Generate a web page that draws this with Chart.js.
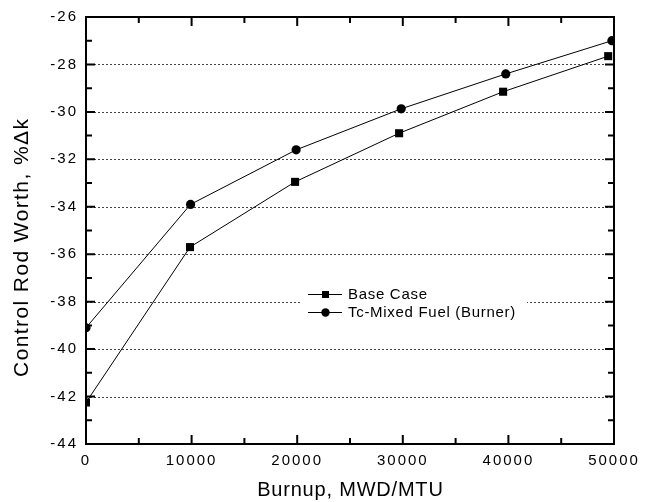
<!DOCTYPE html>
<html>
<head>
<meta charset="utf-8">
<title>Control Rod Worth vs Burnup</title>
<script src="https://cdn.jsdelivr.net/npm/chart.js@4.4.1/dist/chart.umd.min.js"></script>
<style>
  html, body { margin: 0; padding: 0; background: #fff; }
  #wrap { width: 653px; height: 502px; }
</style>
</head>
<body>
<div id="wrap"><canvas id="worth-chart" width="653" height="502"></canvas></div>
<script>
// burnup (MWD/MTU) and control rod worth (%Δk) for each case
const burnupBase = [0, 9850, 19800, 29650, 39500, 49450];
const worthBase = [-42.25, -35.7, -32.95, -30.9, -29.15, -27.65];
const burnupTc = [0, 9900, 19900, 29850, 39750, 49800];
const worthTc = [-39.1, -33.9, -31.6, -29.87, -28.4, -27.0];

const seriesNames = ["Base Case", "Tc-Mixed Fuel (Burner)"];
const xTicks = [0, 10000, 20000, 30000, 40000, 50000];
const yTicks = [-44, -42, -40, -38, -36, -34, -32, -30, -28, -26];
const xTitle = "Burnup, MWD/MTU";
const yTitle = "Control Rod Worth, %\u0394k";

const FONT = "'Liberation Sans', Arial, Helvetica, sans-serif";

const toPoints = (xs, ys) => xs.map((x, i) => ({ x: x, y: ys[i] }));

// frame, inward ticks, dotted grid, axis titles and the boxed legend
const framePlugin = {
  id: "frame",
  beforeDraw(chart) {
    // wide-set tick numbers
    chart.ctx.letterSpacing = "2px";
  },
  beforeDatasetsDraw(chart) {
    const { ctx, chartArea: a, scales } = chart;
    ctx.save();
    ctx.letterSpacing = "0px";
    ctx.strokeStyle = "#444";
    ctx.lineWidth = 1;
    ctx.setLineDash([2, 2]);
    yTicks.slice(1, -1).forEach((v) => {
      const y = Math.round(scales.y.getPixelForValue(v)) + 0.5;
      ctx.beginPath();
      ctx.moveTo(a.left, y);
      ctx.lineTo(a.right, y);
      ctx.stroke();
    });
    ctx.setLineDash([]);
    // white box behind the legend
    ctx.fillStyle = "#fff";
    ctx.fillRect(301, 282, 226, 40);
    ctx.restore();
  },
  afterDatasetsDraw(chart) {
    const { ctx, chartArea: a, scales } = chart;
    ctx.save();
    ctx.letterSpacing = "0px";
    ctx.strokeStyle = "#000";
    ctx.lineWidth = 2;
    ctx.strokeRect(a.left, a.top, a.right - a.left, a.bottom - a.top);

    ctx.beginPath();
    for (let v = -44; v <= -26; v += 1) {
      const y = scales.y.getPixelForValue(v);
      const len = v % 2 === 0 ? 9 : 6;
      ctx.moveTo(a.left, y); ctx.lineTo(a.left + len, y);
      ctx.moveTo(a.right, y); ctx.lineTo(a.right - len, y);
    }
    for (let v = 0; v <= 50000; v += 5000) {
      const x = scales.x.getPixelForValue(v);
      const len = v % 10000 === 0 ? 9 : 6;
      ctx.moveTo(x, a.bottom); ctx.lineTo(x, a.bottom - len);
      ctx.moveTo(x, a.top); ctx.lineTo(x, a.top + len);
    }
    ctx.stroke();

    // legend: line - marker - line, then the label
    const rows = [
      { y: 294, ds: chart.data.datasets[0] },
      { y: 312, ds: chart.data.datasets[1] }
    ];
    ctx.font = "15px " + FONT;
    ctx.letterSpacing = "0.7px";
    ctx.textBaseline = "middle";
    ctx.fillStyle = "#000";
    rows.forEach((r) => {
      ctx.lineWidth = 1;
      ctx.beginPath();
      ctx.moveTo(308, r.y + 0.5);
      ctx.lineTo(342, r.y + 0.5);
      ctx.stroke();
      ctx.beginPath();
      if (r.ds.pointStyle === "rect") {
        ctx.fillRect(322, r.y - 3, 7, 7);
      } else {
        ctx.arc(325.5, r.y + 0.5, 4.2, 0, Math.PI * 2);
        ctx.fill();
      }
      ctx.fillText(r.ds.label, 348, r.y + 1);
    });
    ctx.restore();
  },
  afterDraw(chart) {
    const { ctx, chartArea: a } = chart;
    ctx.save();
    ctx.fillStyle = "#000";
    ctx.textAlign = "center";
    ctx.textBaseline = "middle";

    ctx.font = "20px " + FONT;
    ctx.letterSpacing = "0.8px";
    ctx.fillText(xTitle, (a.left + a.right) / 2 + 0.4, 490);

    ctx.font = "21px " + FONT;
    ctx.letterSpacing = "1.4px";
    ctx.translate(22, 248);
    ctx.rotate(-Math.PI / 2);
    ctx.fillText(yTitle, 0.7, 0);
    ctx.restore();
  }
};

const ctx = document.getElementById("worth-chart").getContext("2d");
const worthChart = new Chart(ctx, {
  type: "scatter",
  data: {
    datasets: [
      {
        label: seriesNames[0],
        data: toPoints(burnupBase, worthBase),
        showLine: true,
        borderColor: "#000",
        borderWidth: 1,
        backgroundColor: "#000",
        pointStyle: "rect",
        pointRadius: 5.7,
        pointBorderWidth: 0
      },
      {
        label: seriesNames[1],
        data: toPoints(burnupTc, worthTc),
        showLine: true,
        borderColor: "#000",
        borderWidth: 1,
        backgroundColor: "#000",
        pointStyle: "circle",
        pointRadius: 4.6,
        pointBorderWidth: 0
      }
    ]
  },
  options: {
    responsive: false,
    animation: false,
    events: [],
    layout: { padding: { top: 15, right: 39, left: 0, bottom: 0 } },
    plugins: {
      legend: { display: false },
      tooltip: { enabled: false }
    },
    scales: {
      x: {
        type: "linear",
        min: 0,
        max: 50000,
        afterBuildTicks: (s) => { s.ticks = xTicks.map((v) => ({ value: v })); },
        afterFit: (s) => { s.height = 58; },
        grid: { display: false, drawTicks: false },
        border: { display: false },
        ticks: {
          color: "#000",
          padding: 8,
          maxRotation: 0,
          font: { family: FONT, size: 15 },
          callback: (v) => String(v)
        }
      },
      y: {
        type: "linear",
        min: -44,
        max: -26,
        afterBuildTicks: (s) => { s.ticks = yTicks.map((v) => ({ value: v })); },
        afterFit: (s) => { s.width = 86; },
        grid: { display: false, drawTicks: false },
        border: { display: false },
        ticks: {
          color: "#000",
          padding: 8,
          font: { family: FONT, size: 15 },
          callback: (v) => String(v)
        }
      }
    }
  },
  plugins: [framePlugin]
});
</script>
</body>
</html>
